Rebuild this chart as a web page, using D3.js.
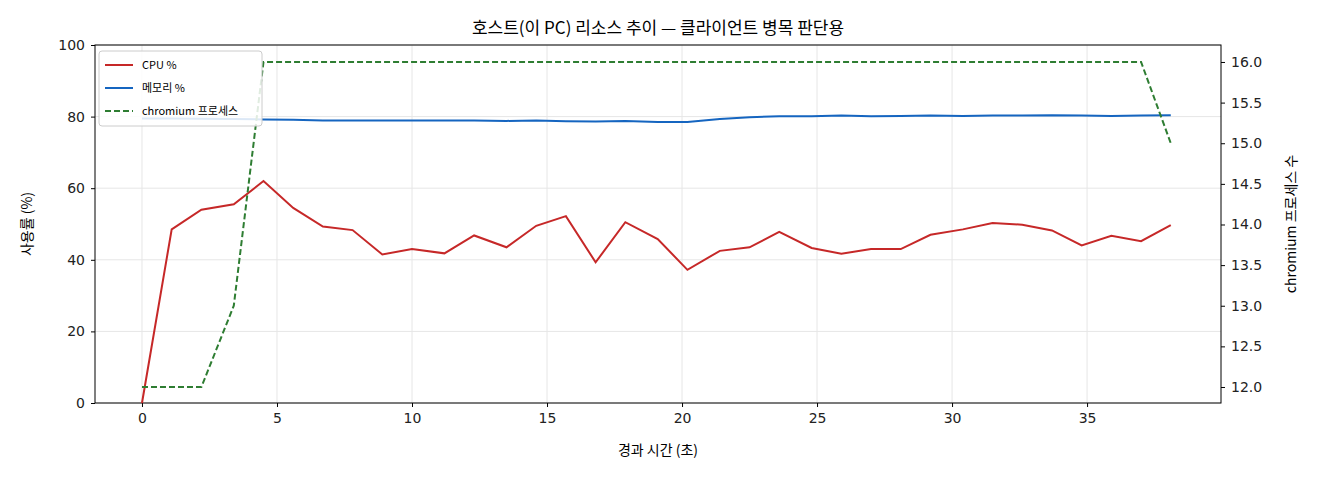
<!DOCTYPE html>
<html><head><meta charset="utf-8">
<script src="https://cdn.jsdelivr.net/npm/d3@7"></script>
<style>body{margin:0;background:#fff;font-family:"Noto Sans CJK KR","DejaVu Sans",sans-serif;}</style>
</head><body><svg id="c" width="1320" height="480"></svg>
<script>
const times=[0,1.1,2.2,3.4,4.5,5.6,6.7,7.8,8.9,10.0,11.2,12.3,13.5,14.6,15.7,16.8,17.9,19.1,20.2,21.4,22.5,23.6,24.8,25.9,27.0,28.1,29.2,30.4,31.5,32.6,33.7,34.8,35.9,37.0,38.1];
const cpu=[0,48.5,54,55.5,62,54.5,49.3,48.3,41.5,43,41.8,46.8,43.5,49.5,52.2,39.3,50.5,45.8,37.2,42.5,43.5,47.8,43.3,41.7,43,43,47,48.5,50.3,49.8,48.2,44,46.7,45.2,49.7];
const mem=[79.5,79.5,79.4,79.3,79.2,79.1,78.9,78.9,78.9,78.9,78.9,78.9,78.8,78.9,78.7,78.6,78.8,78.5,78.5,79.3,79.8,80.1,80.1,80.3,80.1,80.2,80.3,80.2,80.3,80.3,80.4,80.3,80.2,80.3,80.4];
const procs=[12,12,12,13,16,16,16,16,16,16,16,16,16,16,16,16,16,16,16,16,16,16,16,16,16,16,16,16,16,16,16,16,16,16,15];
const xTicks=[0,5,10,15,20,25,30,35];
const yTicks=[0,20,40,60,80,100];
const y2Ticks=[12.0,12.5,13.0,13.5,14.0,14.5,15.0,15.5,16.0];
const svg=d3.select("#c");
const L=95,R=1221,T=45,B=403;
const x=d3.scaleLinear().domain([-1.74,39.96]).range([L,R]);
const y=d3.scaleLinear().domain([0,100]).range([B,T]);
const y2=d3.scaleLinear().domain([11.803,16.209]).range([B,T]);
const g=svg.append("g");
g.selectAll(".gx").data(xTicks).join("line").attr("x1",d=>x(d)).attr("x2",d=>x(d)).attr("y1",T).attr("y2",B).attr("stroke","#e6e6e6");
g.selectAll(".gy").data(yTicks).join("line").attr("y1",d=>y(d)).attr("y2",d=>y(d)).attr("x1",L).attr("x2",R).attr("stroke","#e6e6e6");
const ax=svg.append("g").attr("transform",`translate(0,${B})`).call(d3.axisBottom(x).tickValues(xTicks).tickSizeOuter(0).tickSize(4).tickPadding(6));
const ay=svg.append("g").attr("transform",`translate(${L},0)`).call(d3.axisLeft(y).tickValues(yTicks).tickSizeOuter(0).tickSize(4).tickPadding(6));
const ay2=svg.append("g").attr("transform",`translate(${R},0)`).call(d3.axisRight(y2).tickValues(y2Ticks).tickFormat(d3.format(".1f")).tickSizeOuter(0).tickSize(4).tickPadding(6));
[ax,ay,ay2].forEach(a=>{a.select(".domain").remove();a.selectAll("text").attr("font-size",14).attr("fill","#222").attr("font-family","DejaVu Sans");});
svg.append("rect").attr("x",L).attr("y",T).attr("width",R-L).attr("height",B-T).attr("fill","none").attr("stroke","#000");
const ln=(ys,sc)=>d3.line().x((d,i)=>x(times[i])).y(d=>sc(d))(ys);
svg.append("path").attr("d",ln(mem,y)).attr("fill","none").attr("stroke","#1565c0").attr("stroke-width",2);
svg.append("path").attr("d",ln(cpu,y)).attr("fill","none").attr("stroke","#c62828").attr("stroke-width",2);
svg.append("path").attr("d",ln(procs,y2)).attr("fill","none").attr("stroke","#2e7d32").attr("stroke-width",2).attr("stroke-dasharray","6,3");
svg.append("text").attr("x",(L+R)/2).attr("y",34).attr("text-anchor","middle").attr("font-size",17).text("호스트(이 PC) 리소스 추이 — 클라이언트 병목 판단용");
svg.append("text").attr("x",(L+R)/2).attr("y",455).attr("text-anchor","middle").attr("font-size",14).text("경과 시간 (초)");
svg.append("text").attr("transform",`translate(32,${(T+B)/2}) rotate(-90)`).attr("text-anchor","middle").attr("font-size",14).text("사용률 (%)");
svg.append("text").attr("transform",`translate(1296,${(T+B)/2}) rotate(-90)`).attr("text-anchor","middle").attr("font-size",14).text("chromium 프로세스 수");
const leg=svg.append("g").attr("transform","translate(99,51)");
leg.append("rect").attr("width",163).attr("height",75).attr("rx",3).attr("fill","#fff").attr("fill-opacity",0.85).attr("stroke","#ccc");
const items=[["CPU %","#c62828",null],["메모리 %","#1565c0",null],["chromium 프로세스","#2e7d32","6,3"]];
items.forEach((it,i)=>{const yy=14+i*23;
leg.append("line").attr("x1",6).attr("x2",34).attr("y1",yy).attr("y2",yy).attr("stroke",it[1]).attr("stroke-width",2).attr("stroke-dasharray",it[2]);
leg.append("text").attr("x",43).attr("y",yy+4).attr("font-size",11).text(it[0]);});
</script></body></html>
